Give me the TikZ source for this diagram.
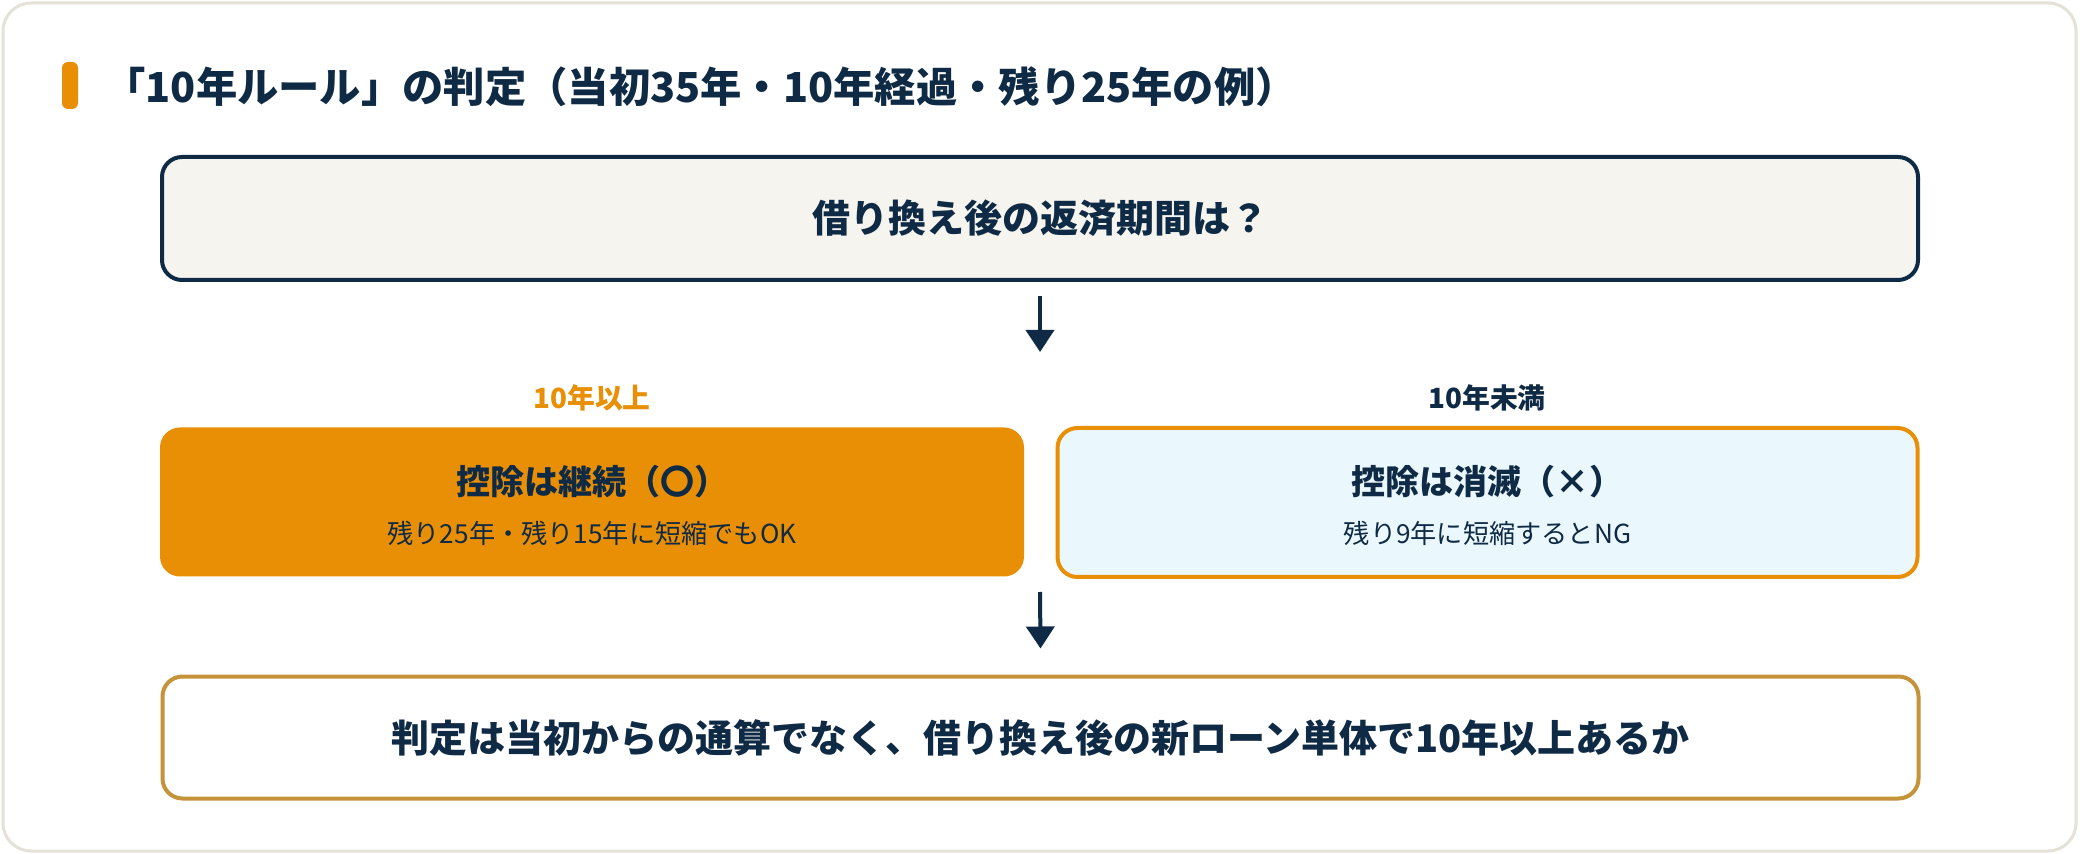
\documentclass[tikz,border=0pt]{standalone}
\usepackage{fontspec}
\setmainfont{Noto Sans CJK JP}
\usetikzlibrary{arrows.meta}
\definecolor{navy}{HTML}{0F2A44}
\definecolor{amber}{HTML}{E88F05}
\definecolor{gold}{HTML}{C4933A}
\definecolor{paper}{HTML}{F5F4EF}
\definecolor{icy}{HTML}{EAF8FD}
\definecolor{cardline}{HTML}{E4E1D6}

\begin{document}
\begin{tikzpicture}[line cap=round,line join=round,x=0.5pt,y=-0.5pt,
    box/.style={rounded corners=10pt,inner sep=0pt},
    headtext/.style={text=navy,font=\bfseries\fontsize{19}{23}\selectfont},
    casetext/.style={text=navy,font=\bfseries\fontsize{17}{20}\selectfont},
    subtext/.style={text=navy,font=\fontsize{13.1}{16}\selectfont},
    tagtext/.style={font=\bfseries\fontsize{13.9}{16}\selectfont},
    flow/.style={-{Triangle[length=11pt,width=14pt]},line width=2pt,draw=navy,line cap=butt}]
  \useasboundingbox (0,0) rectangle (2080,854);
  % card and title
  \draw [line width=1.5pt,draw=cardline,fill=white,rounded corners=14pt] (3,3) rectangle (2076,851);
  \fill [amber,rounded corners=3pt] (62,62) rectangle (78,109);
  \node [anchor=west,inner sep=0pt,text=navy,font=\bfseries\fontsize{20.65}{24}\selectfont] (title) at (104,87) {「10年ルール」の判定（当初35年・10年経過・残り25年の例）};
  % question
  \node [box,draw=navy,line width=2pt,fill=paper,minimum width=878pt,minimum height=61.5pt] (ask) at (1040,218.5) {};
  \node [headtext] (askT) at (ask.center) {借り換え後の返済期間は？};
  % two cases
  \node [tagtext,text=amber] (longTag) at (592,398) {10年以上};
  \node [tagtext,text=navy] (shortTag) at (1487,398) {10年未満};
  \node [box,fill=amber,minimum width=432pt,minimum height=74.5pt] (keep) at (592,502) {};
  \node [box,draw=amber,line width=2pt,fill=icy,minimum width=430pt,minimum height=74.5pt] (lose) at (1487.5,502.5) {};
  \node [casetext] (keepT) at (592,482) {控除は継続（〇）};
  \node [subtext] (keepS) at (592,533) {残り25年・残り15年に短縮でもOK};
  \node [casetext] (loseT) at (1487.5,482) {控除は消滅（×）};
  \node [subtext] (loseS) at (1487.5,533) {残り9年に短縮するとNG};
  % result
  \node [box,draw=gold,line width=2pt,fill=white,minimum width=878pt,minimum height=61pt] (rule) at (1040.5,737.5) {};
  \node [headtext] (ruleT) at (rule.center) {判定は当初からの通算でなく、借り換え後の新ローン単体で10年以上あるか};
  % arrows
  \coordinate (fork) at (1040,352);
  \coordinate (join) at (1040,592);
  \draw [flow] ([yshift=-7pt]ask.south) -- (fork);
  \draw [flow] (join) -- ([yshift=13pt]rule.north);
\end{tikzpicture}
\end{document}
